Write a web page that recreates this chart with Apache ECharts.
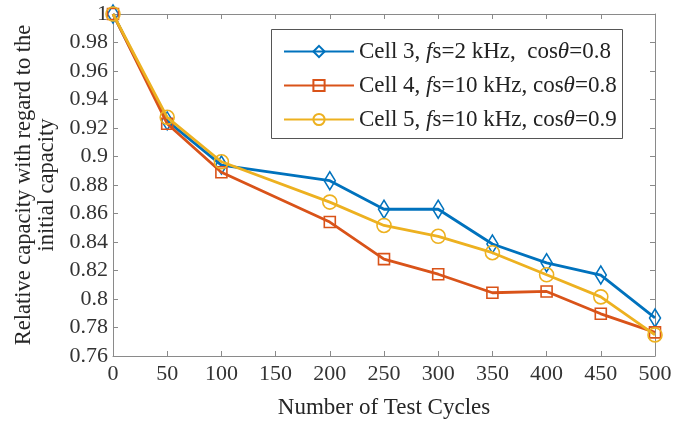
<!DOCTYPE html>
<html><head><meta charset="utf-8">
<script src="https://cdn.jsdelivr.net/npm/echarts@6/dist/echarts.min.js"></script>
<style>html,body{margin:0;padding:0;background:#fff}#c{width:686px;height:424px}</style>
</head><body><div id="c"></div>
<script>
var cycles = [0, 50, 100, 200, 250, 300, 350, 400, 450, 500];
var cell3 = [1.0, 0.925, 0.894, 0.883, 0.863, 0.863, 0.8386, 0.8254, 0.8168, 0.7867];
var cell4 = [1.0, 0.923, 0.889, 0.854, 0.828, 0.8174, 0.8044, 0.8053, 0.7896, 0.7766];
var cell5 = [1.0, 0.9275, 0.8963, 0.868, 0.8516, 0.844, 0.8325, 0.817, 0.8015, 0.7748];
var seriesNames = ['Cell 3, fs=2 kHz,  cos\u03b8=0.8', 'Cell 4, fs=10 kHz, cos\u03b8=0.8', 'Cell 5, fs=10 kHz, cos\u03b8=0.9'];
var legendRich = [
  '{a|Cell 3, }{i|f}{a|s=2 kHz,  cos}{i|\u03b8}{a|=0.8}',
  '{a|Cell 4, }{i|f}{a|s=10 kHz, cos}{i|\u03b8}{a|=0.8}',
  '{a|Cell 5, }{i|f}{a|s=10 kHz, cos}{i|\u03b8}{a|=0.9}'
];
var xTicks = {min: 0, max: 500, interval: 50};
var yTicks = {min: 0.76, max: 1, interval: 0.02};
var xName = 'Number of Test Cycles';
var yName = 'Relative capacity with regard to the\ninitial capacity';

var FONT = '"Liberation Serif", "Times New Roman", serif';
var colors = ['#0072BD', '#D95319', '#EDB120'];
var symbols = ['diamond', 'rect', 'circle'];
var symbolSizes = [[11, 18], 11, 14];
var values = [cell3, cell4, cell5];
function pairs(v) { return cycles.map(function (c, i) { return [c, v[i]]; }); }

var axisLineStyle = {color: '#8a8a8a', width: 1};
var chart = echarts.init(document.getElementById('c'), null, {renderer: 'canvas'});
chart.setOption({
  animation: false,
  grid: {left: 113, right: 31, top: 14, bottom: 60, containLabel: false},
  xAxis: [{
    type: 'value', min: xTicks.min, max: xTicks.max, interval: xTicks.interval,
    name: xName, nameLocation: 'middle', nameGap: 40,
    nameTextStyle: {fontFamily: FONT, fontSize: 23, color: '#262626'},
    axisLine: {show: true, onZero: false, lineStyle: axisLineStyle},
    axisTick: {show: true, inside: true, length: 5, lineStyle: axisLineStyle},
    axisLabel: {fontFamily: FONT, fontSize: 22, color: '#333', margin: 7},
    splitLine: {show: false}
  }, {
    type: 'value', position: 'top', min: xTicks.min, max: xTicks.max, interval: xTicks.interval,
    axisLine: {show: true, onZero: false, lineStyle: axisLineStyle},
    axisTick: {show: true, inside: true, length: 5, lineStyle: axisLineStyle},
    axisLabel: {show: false}, splitLine: {show: false}
  }],
  yAxis: [{
    type: 'value', min: yTicks.min, max: yTicks.max, interval: yTicks.interval,
    name: yName, nameLocation: 'middle', nameGap: 53, nameRotate: 90,
    nameTextStyle: {fontFamily: FONT, fontSize: 22.5, color: '#262626', lineHeight: 23, align: 'center'},
    axisLine: {show: true, onZero: false, lineStyle: axisLineStyle},
    axisTick: {show: true, inside: true, length: 5, lineStyle: axisLineStyle},
    axisLabel: {fontFamily: FONT, fontSize: 22, color: '#333', margin: 5},
    splitLine: {show: false}
  }, {
    type: 'value', position: 'right', min: yTicks.min, max: yTicks.max, interval: yTicks.interval,
    axisLine: {show: true, onZero: false, lineStyle: axisLineStyle},
    axisTick: {show: true, inside: true, length: 5, lineStyle: axisLineStyle},
    axisLabel: {show: false}, splitLine: {show: false}
  }],
  graphic: [{
    type: 'rect', left: 271, top: 29, z: 90,
    shape: {width: 351, height: 109},
    style: {fill: '#fff', stroke: '#555', lineWidth: 1}
  }],
  legend: {
    orient: 'vertical', left: 278, top: 35, z: 100,
    itemWidth: 70, itemHeight: 14, itemGap: 11,
    data: seriesNames,
    formatter: function (name) { return legendRich[seriesNames.indexOf(name)]; },
    textStyle: {
      fontFamily: FONT, fontSize: 23, color: '#222', lineHeight: 23,
      rich: {
        a: {fontFamily: FONT, fontSize: 23, color: '#222', lineHeight: 23},
        i: {fontFamily: FONT, fontSize: 23, color: '#222', fontStyle: 'italic', lineHeight: 23}
      }
    }
  },
  series: seriesNames.map(function (n, k) {
    return {
      name: n, type: 'line', data: pairs(values[k]),
      xAxisIndex: 0, yAxisIndex: 0,
      symbol: symbols[k], symbolSize: symbolSizes[k],
      showAllSymbol: true, color: colors[k],
      lineStyle: {color: colors[k], width: 2.8},
      itemStyle: {color: 'rgba(255,255,255,0)', borderColor: colors[k], borderWidth: 1.6},
      emphasis: {disabled: true}, z: 2 + k
    };
  })
});
</script>
</body></html>
